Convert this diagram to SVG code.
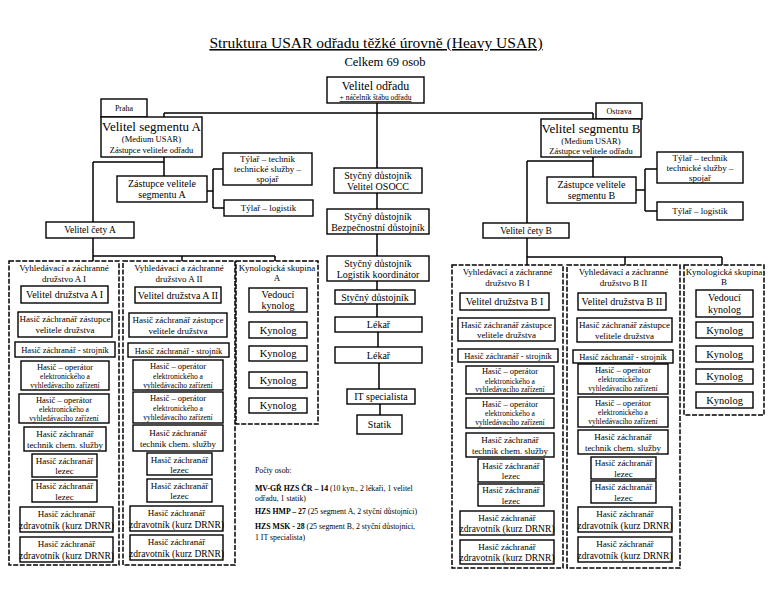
<svg xmlns="http://www.w3.org/2000/svg" width="768" height="605" viewBox="0 0 768 605">
<style>
.b{fill:#fff;stroke:#000;stroke-width:1.4}
.d{fill:#fff;stroke:#000;stroke-width:1.5;stroke-dasharray:5 1.6}
.c{fill:none;stroke:#000;stroke-width:1.5}
text{font-family:"Liberation Serif","Times New Roman",serif;fill:#000;text-anchor:middle}
.s7{font-size:7.5px}.s8{font-size:8px}.s85{font-size:8.5px}.s9{font-size:9px}.s95{font-size:9.5px}.s10{font-size:10px}.s105{font-size:10.5px}
.lg{text-anchor:start;font-size:7.8px}
</style>
<rect width="768" height="605" fill="#fff"/>
<text x="376" y="48" font-size="15.5" text-decoration="underline">Struktura USAR odřadu těžké úrovně (Heavy USAR)</text>
<text x="385" y="66" font-size="12.5">Celkem 69 osob</text>

<g id="connectors">
<path class="c" d="M377 103V168M164 113H593M164 113V117M593 113V119"/>
<path class="c" d="M164 157V176M93 162H164M93 162V222M93 238V261M93 256H275M182 256V261M275 256V261"/>
<path class="c" d="M207 191H213M213 169V208M213 169H223M213 208H224"/>
<path class="c" d="M593 157V177M527 161H593M527 161V223M527 238V265M527 257H722M625 257V265M722 257V265"/>
<path class="c" d="M636 190H645M645 169V211M645 169H657M645 211H657"/>
<path class="c" d="M377 193V209M377 234V256M377 281V290M377 304V317M378 332V347M379 363V389M380 404V415"/>
</g>

<g id="velitel-odradu"><rect class="b" x="327" y="77" width="97" height="26"/><text x="375.5" y="90" font-size="12">Velitel odřadu</text><text x="375.5" y="100" class="s7" text-decoration="underline">+ náčelník štábu odřadu</text></g>
<g id="praha"><rect class="b" x="101" y="99" width="46" height="18"/><text x="124" y="111" class="s8">Praha</text></g>
<g id="segment-a"><rect class="b" x="101" y="117" width="101" height="40"/><text x="151.5" y="131" font-size="13">Velitel segmentu A</text><text x="151.5" y="142" class="s85">(Medium USAR)</text><text x="151.5" y="153" class="s85">Zástupce velitele odřadu</text></g>
<g id="ostrava"><rect class="b" x="596" y="103" width="46" height="16"/><text x="619" y="114" class="s8">Ostrava</text></g>
<g id="segment-b"><rect class="b" x="541" y="119" width="100" height="38"/><text x="591" y="133" font-size="13">Velitel segmentu B</text><text x="591" y="144" class="s85">(Medium USAR)</text><text x="591" y="154" class="s85">Zástupce velitele odřadu</text></g>

<g id="zastupce-a"><rect class="b" x="117" y="176" width="90" height="26"/><text x="162" y="187" class="s10">Zástupce velitele</text><text x="162" y="198" class="s10">segmentu A</text></g>
<g id="tylar-technik-a"><rect class="b" x="223" y="153" width="89" height="32"/><text x="267.5" y="162" class="s9">Týlař – technik</text><text x="267.5" y="172" class="s9">technické služby –</text><text x="267.5" y="182" class="s9">spojař</text></g>
<g id="tylar-logistik-a"><rect class="b" x="224" y="200" width="89" height="16"/><text x="268.5" y="211" class="s9">Týlař – logistik</text></g>
<g id="velitel-cety-a"><rect class="b" x="46" y="222" width="88" height="16"/><text x="90" y="233" class="s95">Velitel čety A</text></g>

<g id="zastupce-b"><rect class="b" x="547" y="177" width="89" height="26"/><text x="591.5" y="188" class="s10">Zástupce velitele</text><text x="591.5" y="199" class="s10">segmentu B</text></g>
<g id="tylar-technik-b"><rect class="b" x="657" y="152" width="86" height="31"/><text x="700" y="161" class="s9">Týlař – technik</text><text x="700" y="171" class="s9">technické služby –</text><text x="700" y="181" class="s9">spojař</text></g>
<g id="tylar-logistik-b"><rect class="b" x="657" y="202" width="86" height="18"/><text x="700" y="214" class="s9">Týlař – logistik</text></g>
<g id="velitel-cety-b"><rect class="b" x="483" y="223" width="86" height="15"/><text x="526" y="234" class="s95">Velitel čety B</text></g>

<g id="osocc"><rect class="b" x="334" y="168" width="88" height="25"/><text x="378" y="179" class="s10">Styčný důstojník</text><text x="378" y="190" class="s10">Velitel OSOCC</text></g>
<g id="bezpecnostni"><rect class="b" x="327" y="209" width="102" height="25"/><text x="378" y="220" class="s10">Styčný důstojník</text><text x="378" y="231" class="s10">Bezpečnostní důstojník</text></g>
<g id="logistik"><rect class="b" x="327" y="256" width="102" height="25"/><text x="378" y="267" class="s10">Styčný důstojník</text><text x="378" y="278" class="s10">Logistik koordinátor</text></g>
<g id="stycny"><rect class="b" x="335" y="290" width="80" height="14"/><text x="375" y="300.5" class="s10">Styčný důstojník</text></g>
<g id="lekar-1"><rect class="b" x="335" y="317" width="87" height="15"/><text x="378.5" y="328" class="s10">Lékař</text></g>
<g id="lekar-2"><rect class="b" x="335" y="347" width="87" height="16"/><text x="378.5" y="358.5" class="s10">Lékař</text></g>
<g id="it"><rect class="b" x="347" y="389" width="68" height="15"/><text x="381" y="400" class="s10">IT specialista</text></g>
<g id="statik"><rect class="b" x="357" y="415" width="45" height="19"/><text x="379.5" y="428" class="s10">Statik</text></g>

<g id="druzstvo-a1">
<rect class="d" x="9" y="261" width="110" height="304"/>
<text x="64" y="271" class="s9">Vyhledávací a záchranné</text><text x="64" y="282" class="s9">družstvo A I</text>
<rect class="b" x="21" y="286" width="87" height="17"/><text x="64.5" y="298" class="s10">Velitel družstva A I</text>
<rect class="b" x="18" y="312" width="94" height="25"/><text x="65" y="322" class="s9">Hasič záchranář zástupce</text><text x="65" y="333" class="s9">velitele družstva</text>
<rect class="b" x="15" y="342" width="100" height="15"/><text x="65" y="353" class="s85">Hasič záchranář - strojník</text>
<rect class="b" x="21" y="361" width="88" height="29"/><text x="65" y="369.5" class="s85">Hasič – operátor</text><text x="65" y="379" class="s7">elektronického a</text><text x="65" y="388" class="s7">vyhledávacího zařízení</text>
<rect class="b" x="19" y="394" width="90" height="29"/><text x="64" y="402.5" class="s85">Hasič – operátor</text><text x="64" y="412" class="s7">elektronického a</text><text x="64" y="421" class="s7">vyhledávacího zařízení</text>
<rect class="b" x="24" y="427" width="82" height="24"/><text x="65" y="437" class="s9">Hasič záchranář</text><text x="65" y="448" class="s9">technik chem. služby</text>
<rect class="b" x="32" y="454" width="65" height="23"/><text x="64.5" y="463.5" class="s9">Hasič záchranář</text><text x="64.5" y="474" class="s9">lezec</text>
<rect class="b" x="32" y="480" width="65" height="22"/><text x="64.5" y="489" class="s9">Hasič záchranář</text><text x="64.5" y="499.5" class="s9">lezec</text>
<rect class="b" x="20" y="507" width="93" height="25"/><text x="66.5" y="517" class="s9">Hasič záchranář</text><text x="66.5" y="528.5" class="s95">zdravotník (kurz DRNR)</text>
<rect class="b" x="20" y="537" width="93" height="25"/><text x="66.5" y="547" class="s9">Hasič záchranář</text><text x="66.5" y="558.5" class="s95">zdravotník (kurz DRNR)</text>
</g>

<g id="druzstvo-a2">
<rect class="d" x="123" y="261" width="112" height="304"/>
<text x="179" y="271" class="s9">Vyhledávací a záchranné</text><text x="179" y="282" class="s9">družstvo A II</text>
<rect class="b" x="135" y="287" width="86" height="16"/><text x="178" y="299" class="s10">Velitel družstva A II</text>
<rect class="b" x="129" y="313" width="98" height="24"/><text x="178" y="323" class="s9">Hasič záchranář zástupce</text><text x="178" y="334" class="s9">velitele družstva</text>
<rect class="b" x="128" y="343" width="101" height="14"/><text x="178.5" y="353.5" class="s85">Hasič záchranář - strojník</text>
<rect class="b" x="133" y="360" width="90" height="30"/><text x="178" y="368.5" class="s85">Hasič – operátor</text><text x="178" y="378.5" class="s7">elektronického a</text><text x="178" y="387.5" class="s7">vyhledávacího zařízení</text>
<rect class="b" x="133" y="392" width="90" height="31"/><text x="178" y="401" class="s85">Hasič – operátor</text><text x="178" y="411" class="s7">elektronického a</text><text x="178" y="420" class="s7">vyhledávacího zařízení</text>
<rect class="b" x="133" y="425" width="90" height="26"/><text x="178" y="435.5" class="s9">Hasič záchranář</text><text x="178" y="447" class="s9">technik chem. služby</text>
<rect class="b" x="147" y="453" width="65" height="22"/><text x="179.5" y="462.5" class="s9">Hasič záchranář</text><text x="179.5" y="473" class="s9">lezec</text>
<rect class="b" x="147" y="479" width="65" height="23"/><text x="179.5" y="488.5" class="s9">Hasič záchranář</text><text x="179.5" y="499" class="s9">lezec</text>
<rect class="b" x="130" y="506" width="93" height="25"/><text x="176.5" y="516" class="s9">Hasič záchranář</text><text x="176.5" y="527.5" class="s95">zdravotník (kurz DRNR)</text>
<rect class="b" x="130" y="535" width="93" height="25"/><text x="176.5" y="545" class="s9">Hasič záchranář</text><text x="176.5" y="556.5" class="s95">zdravotník (kurz DRNR)</text>
</g>

<g id="kynologie-a">
<rect class="d" x="236" y="261" width="82" height="163"/>
<text x="277" y="271" class="s9">Kynologická skupina</text><text x="277" y="281" class="s9">A</text>
<rect class="b" x="249" y="288" width="58" height="24"/><text x="278" y="298" class="s10">Vedoucí</text><text x="278" y="309" class="s10">kynolog</text>
<rect class="b" x="249" y="322" width="58" height="16"/><text x="278" y="333.5" class="s105">Kynolog</text>
<rect class="b" x="249" y="346" width="58" height="15"/><text x="278" y="357" class="s105">Kynolog</text>
<rect class="b" x="249" y="372" width="58" height="16"/><text x="278" y="383.5" class="s105">Kynolog</text>
<rect class="b" x="249" y="398" width="58" height="15"/><text x="278" y="409" class="s105">Kynolog</text>
</g>

<g id="druzstvo-b1">
<rect class="d" x="452" y="265" width="111" height="303"/>
<text x="507.5" y="275" class="s9">Vyhledávací a záchranné</text><text x="507.5" y="286" class="s9">družstvo B I</text>
<rect class="b" x="460" y="293" width="89" height="17"/><text x="504.5" y="305" class="s10">Velitel družstva B I</text>
<rect class="b" x="458" y="318" width="97" height="23"/><text x="506.5" y="327.5" class="s9">Hasič záchranář zástupce</text><text x="506.5" y="338" class="s9">velitele družstva</text>
<rect class="b" x="458" y="349" width="100" height="13"/><text x="508" y="359" class="s85">Hasič záchranář - strojník</text>
<rect class="b" x="466" y="366" width="88" height="28"/><text x="510" y="374" class="s85">Hasič – operátor</text><text x="510" y="383.5" class="s7">elektronického a</text><text x="510" y="392" class="s7">vyhledávacího zařízení</text>
<rect class="b" x="466" y="398" width="88" height="30"/><text x="510" y="406.5" class="s85">Hasič – operátor</text><text x="510" y="416" class="s7">elektronického a</text><text x="510" y="425" class="s7">vyhledávacího zařízení</text>
<rect class="b" x="466" y="433" width="88" height="24"/><text x="510" y="443" class="s9">Hasič záchranář</text><text x="510" y="454" class="s9">technik chem. služby</text>
<rect class="b" x="478" y="459" width="66" height="23"/><text x="511" y="468.5" class="s9">Hasič záchranář</text><text x="511" y="479" class="s9">lezec</text>
<rect class="b" x="478" y="484" width="66" height="22"/><text x="511" y="493" class="s9">Hasič záchranář</text><text x="511" y="503.5" class="s9">lezec</text>
<rect class="b" x="460" y="511" width="94" height="24"/><text x="507" y="520.5" class="s9">Hasič záchranář</text><text x="507" y="532" class="s95">zdravotník (kurz DRNR)</text>
<rect class="b" x="460" y="540" width="94" height="24"/><text x="507" y="549.5" class="s9">Hasič záchranář</text><text x="507" y="561" class="s95">zdravotník (kurz DRNR)</text>
</g>

<g id="druzstvo-b2">
<rect class="d" x="567" y="265" width="113" height="303"/>
<text x="623.5" y="275" class="s9">Vyhledávací a záchranné</text><text x="623.5" y="286" class="s9">družstvo B II</text>
<rect class="b" x="578" y="293" width="88" height="17"/><text x="622" y="305" class="s10">Velitel družstva B II</text>
<rect class="b" x="577" y="318" width="95" height="24"/><text x="624.5" y="328" class="s9">Hasič záchranář zástupce</text><text x="624.5" y="339" class="s9">velitele družstva</text>
<rect class="b" x="573" y="350" width="100" height="13"/><text x="623" y="360" class="s85">Hasič záchranář - strojník</text>
<rect class="b" x="578" y="364" width="90" height="30"/><text x="623" y="372.5" class="s85">Hasič – operátor</text><text x="623" y="382" class="s7">elektronického a</text><text x="623" y="391" class="s7">vyhledávacího zařízení</text>
<rect class="b" x="578" y="397" width="90" height="30"/><text x="623" y="405.5" class="s85">Hasič – operátor</text><text x="623" y="415" class="s7">elektronického a</text><text x="623" y="424" class="s7">vyhledávacího zařízení</text>
<rect class="b" x="578" y="430" width="90" height="24"/><text x="623" y="440" class="s9">Hasič záchranář</text><text x="623" y="451" class="s9">technik chem. služby</text>
<rect class="b" x="591" y="457" width="65" height="22"/><text x="623.5" y="466" class="s9">Hasič záchranář</text><text x="623.5" y="476.5" class="s9">lezec</text>
<rect class="b" x="591" y="481" width="65" height="22"/><text x="623.5" y="490" class="s9">Hasič záchranář</text><text x="623.5" y="500.5" class="s9">lezec</text>
<rect class="b" x="578" y="507" width="94" height="25"/><text x="625" y="517" class="s9">Hasič záchranář</text><text x="625" y="528.5" class="s95">zdravotník (kurz DRNR)</text>
<rect class="b" x="578" y="537" width="94" height="25"/><text x="625" y="547" class="s9">Hasič záchranář</text><text x="625" y="558.5" class="s95">zdravotník (kurz DRNR)</text>
</g>

<g id="kynologie-b">
<rect class="d" x="684" y="265" width="80" height="150"/>
<text x="724" y="275" class="s9">Kynologická skupina</text><text x="724" y="285" class="s9">B</text>
<rect class="b" x="696" y="290" width="57" height="27"/><text x="724.5" y="301" class="s10">Vedoucí</text><text x="724.5" y="313" class="s10">kynolog</text>
<rect class="b" x="696" y="322" width="57" height="16"/><text x="724.5" y="333.5" class="s105">Kynolog</text>
<rect class="b" x="696" y="346" width="57" height="16"/><text x="724.5" y="357.5" class="s105">Kynolog</text>
<rect class="b" x="696" y="369" width="57" height="15"/><text x="724.5" y="380" class="s105">Kynolog</text>
<rect class="b" x="696" y="392" width="57" height="16"/><text x="724.5" y="403.5" class="s105">Kynolog</text>
</g>

<g id="legenda">
<text x="255" y="473" class="lg" font-size="7.5">Počty osob:</text>
<text x="255" y="491" class="lg"><tspan font-weight="bold">MV-GŘ HZS ČR – 14</tspan> (10 kyn., 2 lékaři, 1 velitel</text>
<text x="255" y="501" class="lg">odřadu, 1 statik)</text>
<text x="255" y="514" class="lg"><tspan font-weight="bold">HZS HMP – 27</tspan> (25 segment A, 2 styční důstojníci)</text>
<text x="255" y="529" class="lg"><tspan font-weight="bold">HZS MSK - 28</tspan> (25 segment B, 2 styční důstojníci,</text>
<text x="255" y="540" class="lg">1 IT specialista)</text>
</g>
</svg>
